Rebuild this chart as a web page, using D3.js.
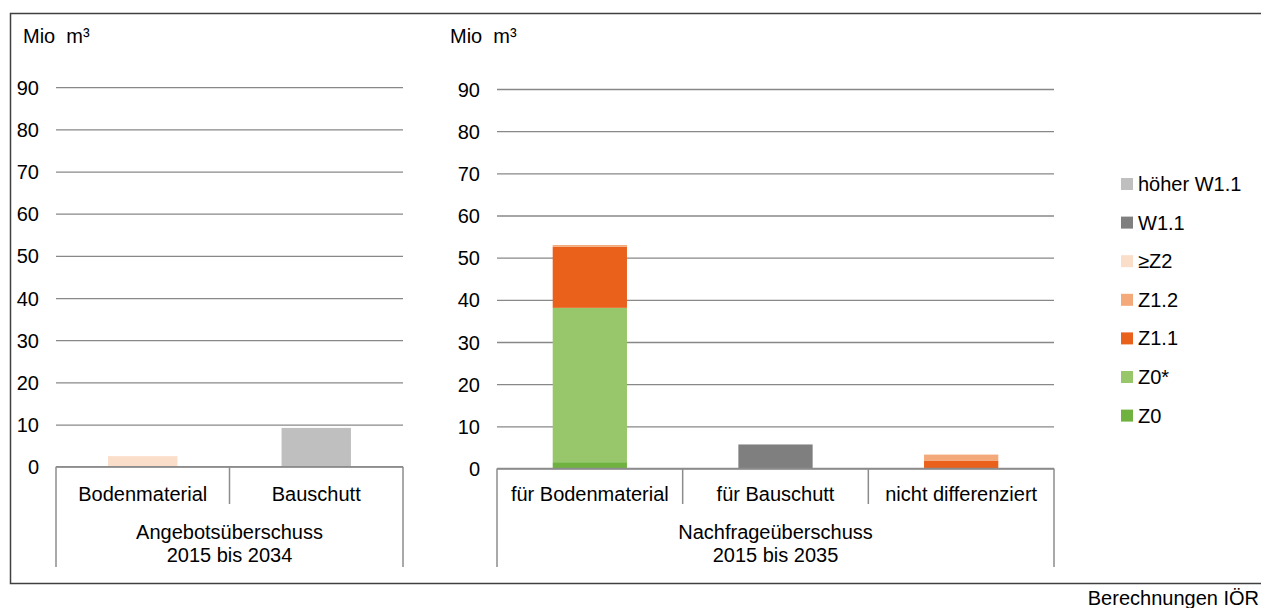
<!DOCTYPE html>
<html>
<head>
<meta charset="utf-8">
<script src="https://cdn.jsdelivr.net/npm/d3@7"></script>
<style>
  body { margin: 0; background: #fff; }
  text { font-family: "Liberation Sans", Arial, sans-serif; fill: #000; }
</style>
</head>
<body>
<div id="chart"></div>
<script>
// categories and series (Mio m³)
var angebotCats = ["Bodenmaterial", "Bauschutt"];
var nachfrageCats = ["für Bodenmaterial", "für Bauschutt", "nicht differenziert"];
var keys = ["Z0", "Z0*", "Z1.1", "Z1.2", "≥Z2", "W1.1", "höher W1.1"];
var colors = ["#70b23f", "#98c66a", "#ea611c", "#f4a97a", "#fbdeca", "#7f7f7f", "#bfbfbf"];
var yTicks = [0, 10, 20, 30, 40, 50, 60, 70, 80, 90];

// values per series: first the Angebot categories, then the Nachfrage ones
var z0        = [0,   0,   1.5,  0,   0];
var z0Star    = [0,   0,   36.6, 0,   0];
var z11       = [0,   0,   14.5, 0,   1.9];
var z12       = [0,   0,   0.4,  0,   1.4];
var z2        = [2.5, 0,   0,    0,   0];
var w11       = [0,   0,   0,    5.7, 0];
var hoeherW11 = [0,   9.2, 0,    0,   0];
var series = [z0, z0Star, z11, z12, z2, w11, hoeherW11];

var fontSize = "20px";
var width = 1261, height = 608;
var svg = d3.select("#chart")
  .append("svg")
    .attr("width", width)
    .attr("height", height);

// outer frame (right edge runs off the picture)
svg.append("rect")
  .attr("x", 10.5).attr("y", 13.5)
  .attr("width", 1270).attr("height", 570)
  .style("fill", "none")
  .style("stroke", "#404040")
  .style("stroke-width", 1.5);

function rows(cats, offset) {
  return cats.map(function(c, i) {
    var r = {cat: c};
    keys.forEach(function(k, j) { r[k] = series[j][offset + i]; });
    return r;
  });
}

function panel(cats, offset, x0, x1, yZero, unitX, groupLines) {
  var y = d3.scaleLinear().domain([0, 90]).range([yZero, yZero - 379.5]);
  var x = d3.scaleBand().domain(cats).range([x0, x1])
    .paddingInner(0.6).paddingOuter(0.3);
  var g = svg.append("g");

  // gridlines
  var grid = g.append("g")
    .attr("transform", "translate(" + x0 + ",0)")
    .call(d3.axisRight(y).tickValues(yTicks).tickSize(x1 - x0).tickFormat(""));
  grid.select(".domain").remove();
  grid.selectAll("line").style("stroke", "#888").style("stroke-width", 1.3);

  // tick labels
  var ax = g.append("g")
    .attr("transform", "translate(" + x0 + ",0)")
    .call(d3.axisLeft(y).tickValues(yTicks).tickSize(0).tickPadding(17));
  ax.select(".domain").remove();
  ax.selectAll("text").style("font-size", fontSize).attr("dy", "0.35em");

  g.append("text")
    .attr("x", unitX).attr("y", 43)
    .style("font-size", fontSize)
    .text("Mio\u00a0 m³");

  // stacked bars
  var stacked = d3.stack().keys(keys)(rows(cats, offset));
  g.append("g").selectAll("g")
    .data(stacked)
    .enter().append("g")
      .style("fill", function(d, i) { return colors[i]; })
    .selectAll("rect")
    .data(function(d) { return d; })
    .enter().append("rect")
      .attr("x", function(d) { return x(d.data.cat); })
      .attr("y", function(d) { return y(d[1]); })
      .attr("height", function(d) { return y(d[0]) - y(d[1]); })
      .attr("width", x.bandwidth());

  // category boxes
  var step = x.step();
  var box = g.append("g").style("stroke", "#8c8c8c").style("stroke-width", 1.5);
  box.append("line").attr("x1", x0).attr("x2", x0).attr("y1", yZero).attr("y2", 567);
  box.append("line").attr("x1", x1).attr("x2", x1).attr("y1", yZero).attr("y2", 567);
  cats.slice(1).forEach(function(c, i) {
    var xs = x0 + step * (i + 1);
    box.append("line").attr("x1", xs).attr("x2", xs).attr("y1", yZero).attr("y2", 504);
  });
  box.append("line").attr("x1", x0).attr("x2", x1).attr("y1", yZero).attr("y2", yZero);

  g.selectAll(".cat")
    .data(cats)
    .enter().append("text")
      .attr("x", function(d) { return x(d) + x.bandwidth() / 2; })
      .attr("y", 501)
      .attr("text-anchor", "middle")
      .style("font-size", fontSize)
      .text(function(d) { return d; });

  g.selectAll(".grp")
    .data(groupLines)
    .enter().append("text")
      .attr("x", (x0 + x1) / 2)
      .attr("y", function(d, i) { return 538.5 + i * 23.5; })
      .attr("text-anchor", "middle")
      .style("font-size", fontSize)
      .text(function(d) { return d; });
}

panel(angebotCats, 0, 56, 403, 466.7, 23, ["Angebotsüberschuss", "2015 bis 2034"]);
panel(nachfrageCats, 2, 497, 1054, 468.5, 450, ["Nachfrageüberschuss", "2015 bis 2035"]);

// legend, top entry is the last series
var legendKeys = keys.slice().reverse();
var legend = svg.append("g").selectAll("g")
  .data(legendKeys)
  .enter().append("g")
    .attr("transform", function(d, i) { return "translate(1121," + (184 + i * 38.6) + ")"; });
legend.append("rect")
  .attr("x", 0).attr("y", -6)
  .attr("width", 12).attr("height", 12)
  .style("fill", function(d) { return colors[keys.indexOf(d)]; });
legend.append("text")
  .attr("x", 17).attr("dy", "0.35em")
  .style("font-size", fontSize)
  .text(function(d) { return d; });

svg.append("text")
  .attr("x", 1259).attr("y", 605)
  .attr("text-anchor", "end")
  .style("font-size", fontSize)
  .text("Berechnungen IÖR");
</script>
</body>
</html>
